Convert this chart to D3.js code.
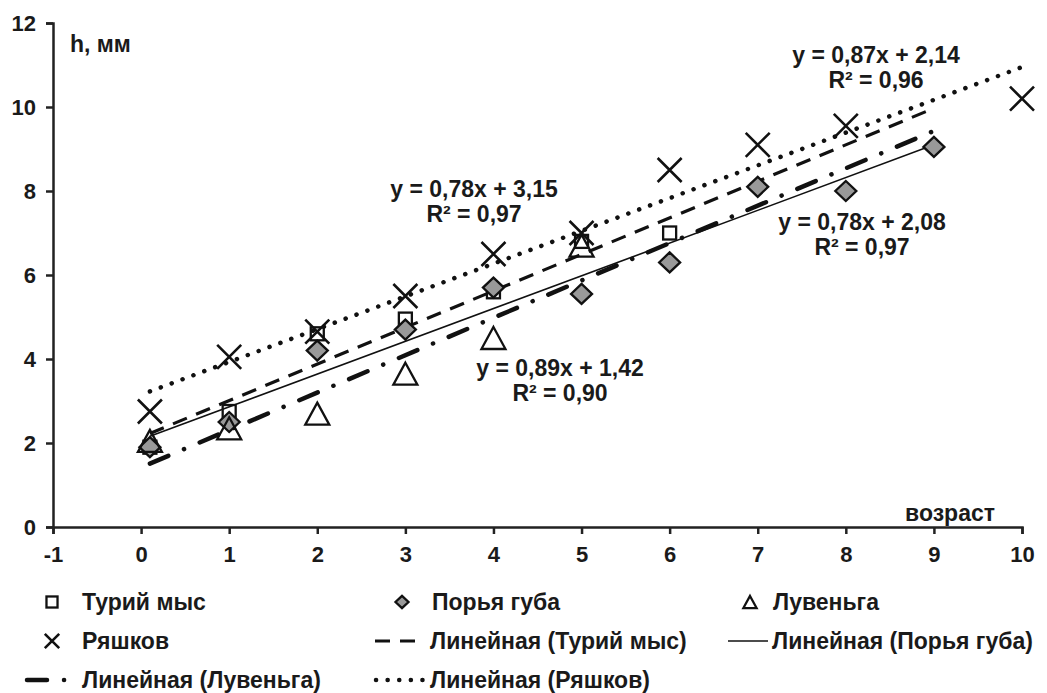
<!DOCTYPE html>
<html>
<head>
<meta charset="utf-8">
<script src="https://cdn.jsdelivr.net/npm/d3@7"></script>
<style>
  body { margin: 0; background: #fff; }
  svg text { font-family: "Liberation Sans", Arial, sans-serif; font-weight: bold; fill: #1a1a1a; }
</style>
</head>
<body>
<div id="chart"></div>
<script>
// data
const turiyX = [0.1, 1, 2, 3, 4, 5, 6];
const turiyY = [1.9, 2.75, 4.6, 4.95, 5.6, 6.8, 7.0];

const poryaX = [0.1, 1, 2, 3, 4, 5, 6, 7, 8, 9];
const poryaY = [1.9, 2.5, 4.2, 4.7, 5.7, 5.55, 6.3, 8.1, 8.0, 9.05];

const luvenX = [0.1, 1, 2, 3, 4, 5];
const luvenY = [2.05, 2.35, 2.7, 3.65, 4.5, 6.7];

const ryashX = [0.1, 1, 2, 3, 4, 5, 6, 7, 8, 10];
const ryashY = [2.75, 4.05, 4.65, 5.5, 6.5, 7.0, 8.5, 9.1, 9.55, 10.2];

// trend lines (from the equations printed on the chart)
const trendNames = ['Турий мыс', 'Порья губа', 'Лувеньга', 'Ряшков'];
const trendSlope = [0.87, 0.78, 0.89, 0.78];
const trendIntercept = [2.14, 2.08, 1.42, 3.15];
const trendR2 = ['0,96', '0,97', '0,90', '0,97'];
const trendFrom = [0.1, 0.1, 0.1, 0.1];
const trendTo = [9, 9, 9, 10];

const xTicks = [-1, 0, 1, 2, 3, 4, 5, 6, 7, 8, 9, 10];
const yTicks = [0, 2, 4, 6, 8, 10, 12];

const width = 1047, height = 693;
const x = d3.scaleLinear().domain([-1, 10]).range([53, 1022]);
const y = d3.scaleLinear().domain([0, 12]).range([527, 23]);

const svg = d3.select('#chart')
  .append('svg')
  .attr('width', width)
  .attr('height', height);

// axes
const xAxis = svg.append('g')
  .attr('transform', `translate(0,${y(0)})`)
  .call(d3.axisBottom(x).tickValues(xTicks).tickSize(7).tickPadding(12).tickFormat((d) => String(d)));
const yAxis = svg.append('g')
  .attr('transform', `translate(${x(-1)},0)`)
  .call(d3.axisLeft(y).tickValues(yTicks).tickSize(7).tickPadding(10).tickFormat((d) => String(d)));

[xAxis, yAxis].forEach((a) => {
  a.select('.domain').attr('stroke', '#222').attr('stroke-width', 2.5);
  a.selectAll('.tick line').attr('stroke', '#222').attr('stroke-width', 2.5);
  a.selectAll('.tick text').style('font-size', '22px').attr('fill', '#1a1a1a');
});

svg.append('text').attr('x', 70).attr('y', 52).style('font-size', '23px').text('h, мм');
svg.append('text').attr('x', 995).attr('y', 521).attr('text-anchor', 'end').style('font-size', '23px').text('возраст');

// trend line styles
const trendStyle = [
  { dash: '15,10', w: 3.2, cap: 'butt' },
  { dash: null, w: 1.6, cap: 'butt' },
  { dash: '20,17,0.1,17', w: 4.5, cap: 'round' },
  { dash: '0.1,11.5', w: 4.5, cap: 'round' },
];

const line = d3.line().x((d) => x(d[0])).y((d) => y(d[1]));

trendNames.forEach((name, i) => {
  const pts = [trendFrom[i], trendTo[i]].map((v) => [v, trendSlope[i] * v + trendIntercept[i]]);
  svg.append('path')
    .datum(pts)
    .attr('d', line)
    .attr('fill', 'none')
    .attr('stroke', '#111')
    .attr('stroke-width', trendStyle[i].w)
    .attr('stroke-linecap', trendStyle[i].cap)
    .attr('stroke-dasharray', trendStyle[i].dash);
});

// markers, k scales the size (1 on the plot, smaller in the legend)
function drawMarker(g, kind, cx, cy, k) {
  if (kind === 'square') {
    const h = 6.5 * k;
    g.append('rect').attr('x', cx - h).attr('y', cy - h).attr('width', 2 * h).attr('height', 2 * h)
      .attr('fill', 'none').attr('stroke', '#111').attr('stroke-width', 2.3);
  } else if (kind === 'diamond') {
    const w = 10.5 * k, h = 10 * k;
    g.append('path').attr('d', `M${cx},${cy - h}L${cx + w},${cy}L${cx},${cy + h}L${cx - w},${cy}Z`)
      .attr('fill', '#999').attr('stroke', '#111').attr('stroke-width', 2.3);
  } else if (kind === 'triangle') {
    const w = 12 * k, h = 11 * k;
    g.append('path').attr('d', `M${cx},${cy - h}L${cx + w},${cy + h}L${cx - w},${cy + h}Z`)
      .attr('fill', 'none').attr('stroke', '#111').attr('stroke-width', 2.3);
  } else {
    const h = 12 * k;
    g.append('path').attr('d', `M${cx - h},${cy - h}L${cx + h},${cy + h}M${cx + h},${cy - h}L${cx - h},${cy + h}`)
      .attr('fill', 'none').attr('stroke', '#111').attr('stroke-width', 2.6);
  }
}

const series = [
  { xs: turiyX, ys: turiyY, kind: 'square' },
  { xs: poryaX, ys: poryaY, kind: 'diamond' },
  { xs: luvenX, ys: luvenY, kind: 'triangle' },
  { xs: ryashX, ys: ryashY, kind: 'cross' },
];

const marks = svg.append('g');
series.forEach((s) => {
  s.xs.forEach((v, j) => drawMarker(marks, s.kind, x(v), y(s.ys[j]), 1));
});

// equation labels
const eqPos = [[876, 63], [862, 230], [560, 376], [474, 197]];
const fmt = (v) => d3.format('.2f')(v).replace('.', ',');
trendNames.forEach((name, i) => {
  const t = svg.append('text').attr('text-anchor', 'middle').style('font-size', '23px');
  t.append('tspan').attr('x', eqPos[i][0]).attr('y', eqPos[i][1])
    .text(`y = ${fmt(trendSlope[i])}x + ${fmt(trendIntercept[i])}`);
  t.append('tspan').attr('x', eqPos[i][0]).attr('y', eqPos[i][1] + 25)
    .text(`R² = ${trendR2[i]}`);
});

// legend
const legendItems = [
  { label: 'Турий мыс', kind: 'square', k: 0.85, sx: 52, tx: 82, row: 0 },
  { label: 'Порья губа', kind: 'diamond', k: 0.62, sx: 402, tx: 432, row: 0 },
  { label: 'Лувеньга', kind: 'triangle', k: 0.55, sx: 750, tx: 773, row: 0 },
  { label: 'Ряшков', kind: 'cross', k: 0.6, sx: 52, tx: 82, row: 1 },
  { label: 'Линейная (Турий мыс)', line: 0, lx: [375, 415], tx: 430, row: 1 },
  { label: 'Линейная (Порья губа)', line: 1, lx: [728, 768], tx: 772, row: 1 },
  { label: 'Линейная (Лувеньга)', line: 2, lx: [27, 68], tx: 82, row: 2 },
  { label: 'Линейная (Ряшков)', line: 3, lx: [376, 427], tx: 430, row: 2 },
];
const rowY = [602, 641, 680];
const legend = svg.append('g');
legendItems.forEach((it) => {
  const cy = rowY[it.row];
  if (it.kind) {
    drawMarker(legend, it.kind, it.sx, cy, it.k);
  } else {
    const st = trendStyle[it.line];
    legend.append('line')
      .attr('x1', it.lx[0]).attr('x2', it.lx[1]).attr('y1', cy).attr('y2', cy)
      .attr('stroke', '#111')
      .attr('stroke-width', st.w)
      .attr('stroke-linecap', st.cap)
      .attr('stroke-dasharray', st.dash);
  }
  legend.append('text')
    .attr('x', it.tx).attr('y', cy + 8)
    .style('font-size', '23px')
    .text(it.label);
});
</script>
</body>
</html>
